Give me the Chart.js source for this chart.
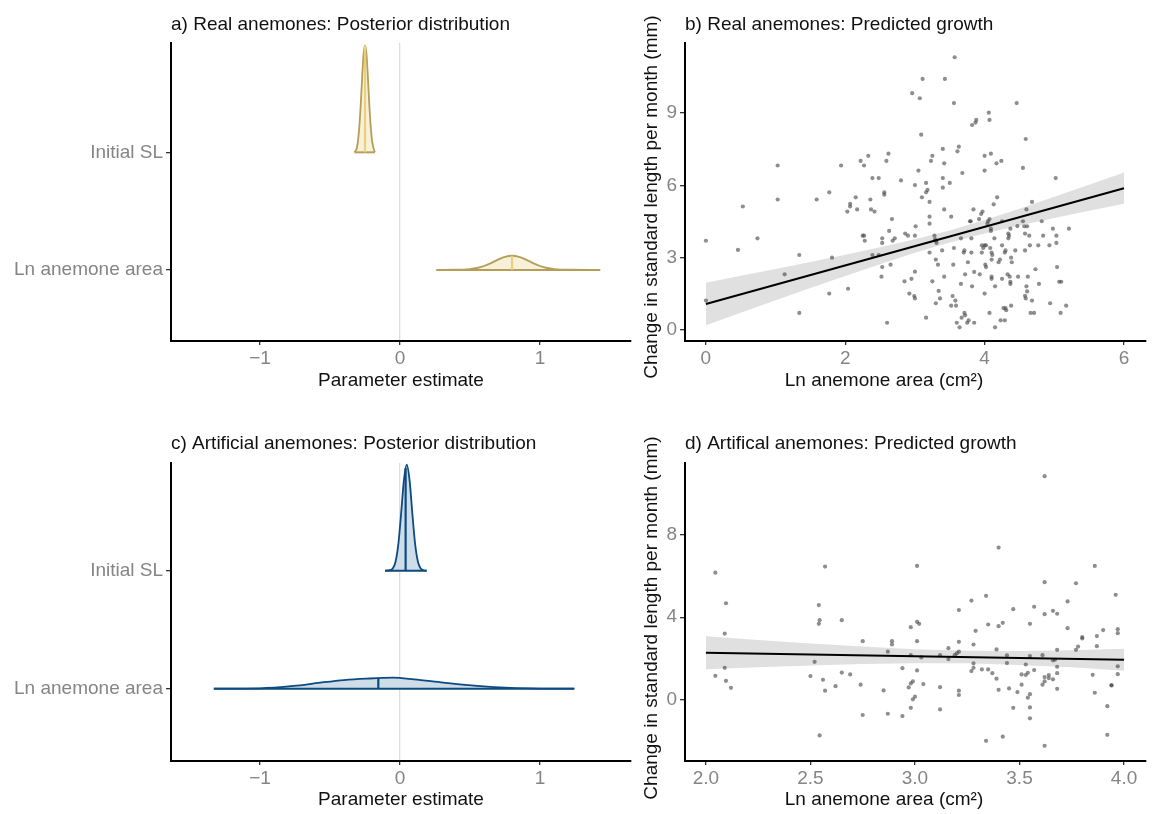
<!DOCTYPE html>
<html>
<head>
<meta charset="utf-8">
<script src="https://cdn.jsdelivr.net/npm/chart.js@4.4.1/dist/chart.umd.min.js"></script>
<style>
  html, body { margin: 0; padding: 0; background: #fff; }
  #wrap { position: relative; width: 1155px; height: 814px; }
  canvas { position: absolute; }
</style>
</head>
<body>
<div id="wrap">
  <canvas id="pa" width="640" height="407" style="left:0;top:0"></canvas>
  <canvas id="pb" width="515" height="407" style="left:640px;top:0"></canvas>
  <canvas id="pc" width="640" height="407" style="left:0;top:407px"></canvas>
  <canvas id="pd" width="515" height="407" style="left:640px;top:407px"></canvas>
</div>
<script>
// ---- data ----
// rows of the posterior panels: Ln anemone area = 1, Initial SL = 2
var paramRows = ['Ln anemone area', 'Initial SL'];
var paramTicks = [-1, 0, 1];

// a) real anemones, posterior densities (height in row units)
var realSLx = [-0.325, -0.31, -0.30, -0.29, -0.28, -0.27, -0.26, -0.25, -0.24, -0.23, -0.22, -0.21, -0.20, -0.19, -0.18];
var realSLh = [0, 0.03, 0.10, 0.23, 0.42, 0.65, 0.84, 0.91, 0.84, 0.65, 0.42, 0.23, 0.10, 0.04, 0];
var realAreaEstX = [0.26, 0.40, 0.50, 0.55, 0.60, 0.65, 0.70, 0.75, 0.80, 0.85, 0.90, 0.95, 1.00, 1.05, 1.10, 1.20, 1.43];
var realAreaEstH = [0, 0.001, 0.007, 0.016, 0.033, 0.058, 0.087, 0.111, 0.12, 0.111, 0.087, 0.058, 0.033, 0.016, 0.007, 0.001, 0];
var realMedians = [-0.25, 0.80];      // Initial SL, Ln anemone area
var realMedianH = [0.91, 0.12];

// c) artificial anemones, posterior densities
var artSLx = [-0.107, -0.072, -0.052, -0.032, -0.012, 0.008, 0.028, 0.048, 0.068, 0.088, 0.108, 0.128, 0.148, 0.168, 0.19];
var artSLh = [0, 0.004, 0.019, 0.076, 0.225, 0.486, 0.77, 0.90, 0.77, 0.486, 0.225, 0.076, 0.019, 0.004, 0];
var artAreaEstX = [-1.33, -1.0, -0.76, -0.57, -0.40, -0.24, -0.05, 0.10, 0.31, 0.55, 0.79, 1.0, 1.245];
var artAreaEstH = [0, 0.003, 0.023, 0.051, 0.073, 0.085, 0.093, 0.079, 0.051, 0.023, 0.006, 0.001, 0];
var artMedians = [0.04, -0.155];
var artMedianH = [0.87, 0.089];

// b) real anemones, observed growth
var realLnArea = [0,0,0.46,0.53,0.74,1.03,1.03,1.13,1.34,1.34,1.59,1.77,1.77,1.81,1.94,2.03,2.04,2.07,2.07,2.15,
  2.17,2.22,2.25,2.27,2.27,2.28,2.33,2.36,2.37,2.39,2.39,2.42,2.48,2.48,2.53,2.53,2.53,2.52,2.56,2.56,
  2.59,2.6,2.62,2.63,2.65,2.67,2.68,2.71,2.8,2.85,2.86,2.9,2.92,2.95,2.96,2.99,3.0,3.0,3.0,3.0,
  3.01,3.05,3.07,3.09,3.11,3.1,3.16,3.16,3.16,3.18,3.21,3.21,3.21,3.21,3.23,3.25,3.25,3.28,3.29,3.3,
  3.3,3.3,3.31,3.33,3.34,3.36,3.39,3.4,3.4,3.4,3.42,3.42,3.42,3.43,3.5,3.52,3.52,3.54,3.55,3.56,
  3.56,3.57,3.58,3.59,3.6,3.61,3.63,3.64,3.66,3.66,3.67,3.68,3.7,3.71,3.71,3.72,3.72,3.75,3.76,3.77,
  3.79,3.8,3.81,3.81,3.82,3.82,3.84,3.85,3.85,3.87,3.88,3.92,3.93,3.95,3.96,3.96,3.97,3.98,4.0,4.0,
  4.0,4.0,4.01,4.02,4.02,4.04,4.05,4.06,4.07,4.07,4.07,4.08,4.09,4.09,4.09,4.1,4.1,4.1,4.1,4.11,
  4.13,4.14,4.15,4.15,4.17,4.18,4.2,4.22,4.23,4.24,4.25,4.25,4.25,4.27,4.29,4.29,4.3,4.3,4.31,4.33,
  4.34,4.34,4.35,4.36,4.37,4.37,4.37,4.38,4.38,4.39,4.44,4.46,4.47,4.48,4.55,4.55,4.57,4.58,4.58,4.58,
  4.59,4.59,4.6,4.6,4.61,4.61,4.62,4.64,4.65,4.66,4.68,4.68,4.71,4.73,4.77,4.78,4.82,4.84,4.93,4.94,
  4.98,5.02,5.03,5.03,5.04,5.07,5.09,5.1,5.17,5.21];
var realGrowth = [3.7,1.22,3.32,5.12,3.8,6.82,5.41,2.31,3.11,0.71,5.41,5.71,1.51,3.0,6.82,4.91,1.71,5.23,5.12,5.5,
  5.0,7.01,3.91,6.82,3.91,3.7,7.22,5.41,5.0,6.3,3.11,4.91,6.3,3.11,3.8,3.61,2.61,2.21,5.71,5.61,
  7.01,0.3,7.31,4.11,2.71,4.6,3.7,3.8,6.2,2.02,4.0,3.91,1.51,2.12,9.82,1.41,1.31,6.01,3.91,2.42,
  4.3,6.61,9.61,8.1,10.41,5.5,6.1,5.71,0.51,5.81,5.31,4.41,4.7,3.21,7.01,7.22,2.02,3.91,3.76,3.7,
  2.92,1.11,3.61,2.71,1.62,1.31,3.3,7.51,6.3,5.9,5.0,6.91,2.21,10.41,6.1,4.7,1.01,1.41,2.71,3.4,
  9.41,11.31,1.22,1.01,0.3,7.41,7.6,0.11,1.91,3.8,0.51,6.51,3.21,3.3,0.71,2.31,0.61,0.3,2.81,0.4,
  4.51,4.51,3.8,3.21,1.81,8.5,5.0,2.41,0.3,8.6,8.71,4.6,2.31,4.81,3.51,3.21,4.91,3.4,6.61,7.22,
  1.51,3.51,2.71,2.61,3.51,4.41,4.51,9.01,0.71,8.71,4.6,3.4,7.31,4.2,4.11,2.92,2.21,2.12,3.21,3.11,
  5.21,3.8,0.11,1.81,6.91,5.5,2.81,2.92,0.4,7.01,4.51,3.51,2.12,0.91,0.4,3.21,0.91,3.3,0.82,2.31,
  3.8,4.0,3.91,2.21,2.0,4.2,1.91,1.01,3.0,2.81,3.3,9.41,4.31,2.21,6.72,4.51,4.3,3.3,4.0,1.42,
  7.92,1.31,5.0,1.81,1.6,4.3,2.21,3.91,3.51,0.71,5.31,1.22,0.71,2.52,3.51,1.91,4.51,3.91,3.51,1.11,
  4.2,6.3,3.61,3.91,2.61,2.0,0.71,2.0,1.01,4.2];
var realFitX = [0, 6];
var realFitY = [1.08, 5.88];
var realBandX = [0, 0.5, 1, 1.5, 2, 2.5, 3, 3.5, 4, 4.5, 5, 5.5, 6];
var realBandHi = [1.96, 2.25, 2.53, 2.82, 3.12, 3.43, 3.76, 4.13, 4.56, 5.03, 5.52, 6.02, 6.53];
var realBandLo = [0.20, 0.72, 1.23, 1.74, 2.24, 2.73, 3.20, 3.63, 4.00, 4.33, 4.64, 4.94, 5.23];
var realXTicks = [0, 2, 4, 6];
var realYTicks = [0, 3, 6, 9];

// d) artificial anemones, observed growth
var artLnArea = [2.045,2.045,2.09,2.09,2.096,2.096,2.12,2.5,2.52,2.54,2.544,2.54,2.544,2.56,2.57,2.57,2.62,2.65,2.65,2.69,
  2.74,2.75,2.75,2.85,2.87,2.87,2.89,2.89,2.94,2.94,2.97,2.98,2.98,2.98,2.98,2.99,2.99,3.0,3.01,3.01,
  3.01,3.01,3.02,3.03,3.04,3.12,3.12,3.12,3.16,3.16,3.19,3.2,3.21,3.21,3.21,3.21,3.21,3.27,3.27,3.28,
  3.28,3.28,3.29,3.32,3.34,3.34,3.35,3.35,3.37,3.39,3.39,3.4,3.4,3.4,3.42,3.42,3.44,3.44,3.45,3.47,
  3.47,3.49,3.51,3.51,3.53,3.53,3.54,3.54,3.55,3.55,3.55,3.55,3.55,3.57,3.57,3.61,3.61,3.62,3.62,3.62,
  3.62,3.62,3.62,3.64,3.64,3.66,3.66,3.66,3.67,3.68,3.68,3.68,3.68,3.68,3.73,3.73,3.77,3.77,3.78,3.8,
  3.8,3.85,3.86,3.86,3.87,3.87,3.9,3.92,3.92,3.94,3.94,3.96,3.97,3.97,3.97,3.97];
var artGrowth = [6.16,1.16,3.21,1.55,4.68,0.92,0.58,1.15,1.84,4.59,3.86,3.68,-1.73,0.97,6.46,0.44,0.66,3.86,1.32,1.23,
  0.73,2.84,-0.74,0.45,-0.68,2.33,2.84,2.68,-0.79,1.53,0.6,3.52,2.16,0.79,-0.39,0.89,0.02,0.15,6.49,3.78,
  2.84,1.42,3.68,2.05,0.76,2.16,0.61,-0.47,2.5,1.97,2.16,2.25,2.81,2.33,4.35,0.44,0.23,4.81,1.39,2.68,
  1.76,1.55,3.34,1.47,-1.99,5.04,1.47,3.65,1.29,1.02,2.44,7.38,3.57,0.48,3.73,-1.79,2.15,1.78,0.55,4.39,
  -0.39,0.37,1.23,0.73,1.71,1.2,1.31,0.1,3.68,2.12,-0.37,-0.9,0.27,4.51,1.44,0.73,2.16,1.1,4.15,0.89,
  10.84,5.7,-2.23,1.2,1.05,4.31,0.99,1.91,1.94,4.17,1.6,1.29,0.53,2.42,4.77,3.47,5.65,2.42,2.58,3.04,
  2.97,1.21,6.49,0.34,3.09,2.6,3.38,-0.31,-1.7,0.71,0.69,5.09,3.23,1.24,3.42,1.62];
var artFitX = [2, 4];
var artFitY = [2.28, 1.94];
var artBandX = [2, 2.25, 2.5, 2.75, 3, 3.25, 3.5, 3.75, 4];
var artBandHi = [3.08, 2.90, 2.73, 2.58, 2.45, 2.37, 2.36, 2.40, 2.47];
var artBandLo = [1.48, 1.57, 1.66, 1.73, 1.77, 1.77, 1.69, 1.57, 1.41];
var artXTicks = [2, 2.5, 3, 3.5, 4];
var artYTicks = [0, 4, 8];

// ---- styling ----
var FAMILY = '"Liberation Sans", Arial, Helvetica, sans-serif';
var FONT_SIZE = 19;
var TICK_GREY = '#858585';
var POINT_GREY = 'rgba(60,60,60,0.58)';
var GOLD = { line: '#b59e57', fill: '#f8f1da', median: '#e8d07c' };
var NAVY = { line: '#0c4a80', fill: '#cfdde9', median: '#0c4a80' };

Chart.defaults.font.family = FAMILY;
Chart.defaults.font.size = FONT_SIZE;

// panel titles and axis titles, drawn at fixed spots
var panelText = {
    id: 'panelText',
    afterDraw: function (chart, args, o) {
        var ctx = chart.ctx, a = chart.chartArea;
        ctx.save();
        ctx.fillStyle = '#111';
        ctx.font = FONT_SIZE + 'px ' + FAMILY;
        ctx.textBaseline = 'middle';
        ctx.textAlign = 'left';
        ctx.fillText(o.title, a.left, o.titleY);
        ctx.textAlign = 'center';
        var xx = o.xTitleX != null ? o.xTitleX : (a.left + a.right) / 2;
        ctx.fillText(o.xTitle, xx, o.xTitleY);
        if (o.yTitle) {
            ctx.translate(o.yTitleX, o.yTitleY);
            ctx.rotate(-Math.PI / 2);
            ctx.fillText(o.yTitle, 0, 0);
        }
        ctx.restore();
    }
};

function pts(xs, ys, base) {
    return xs.map(function (x, i) { return { x: x, y: (base || 0) + ys[i] }; });
}

function densitySets(xs, hs, base, med, medH, c) {
    return [
        { data: pts(xs, hs, base), borderColor: c.line, backgroundColor: c.fill, borderWidth: 1.8,
          fill: { value: base }, pointRadius: 0, cubicInterpolationMode: 'monotone', order: 3 },
        { data: [{ x: xs[0], y: base }, { x: xs[xs.length - 1], y: base }], borderColor: c.line,
          borderWidth: 2, pointRadius: 0, fill: false, order: 2 },
        { data: [{ x: med, y: base }, { x: med, y: base + medH }], borderColor: c.median,
          borderWidth: 2.2, pointRadius: 0, fill: false, order: 1 }
    ];
}

function growthSets(bx, lo, hi, xs, ys, fx, fy) {
    return [
        { data: pts(bx, lo), borderWidth: 0, pointRadius: 0, fill: false, order: 5 },
        { data: pts(bx, hi), borderWidth: 0, pointRadius: 0, fill: '-1', backgroundColor: '#e0e0e0', order: 4 },
        { data: pts(xs, ys), showLine: false, pointRadius: 2.1, pointBorderWidth: 0,
          pointBackgroundColor: POINT_GREY, borderColor: POINT_GREY, order: 2 },
        { data: pts(fx, fy), borderColor: '#000', borderWidth: 2, pointRadius: 0, fill: false, order: 1 }
    ];
}

function axis(horizontal, min, max, tickVals, fmt, size, zeroLine) {
    return {
        type: 'linear', min: min, max: max,
        afterBuildTicks: function (s) { s.ticks = tickVals.map(function (v) { return { value: v }; }); },
        afterFit: function (s) { if (horizontal) s.height = size; else s.width = size; },
        ticks: { color: TICK_GREY, padding: horizontal ? 2 : 3, autoSkip: false, maxRotation: 0, callback: fmt },
        grid: {
            drawOnChartArea: !!zeroLine,
            color: function (c) { return c.tick && c.tick.value === 0 ? '#dedede' : 'rgba(0,0,0,0)'; },
            lineWidth: 1.3, tickColor: '#333', tickLength: horizontal ? 4 : 5, tickWidth: 1.3
        },
        border: { color: '#000', width: 2 }
    };
}

function makePanel(id, p) {
    return new Chart(document.getElementById(id), {
        type: 'line',
        data: { datasets: p.datasets },
        options: {
            responsive: false,
            devicePixelRatio: 1,
            animation: false,
            layout: { padding: p.padding },
            plugins: { legend: { display: false }, tooltip: { enabled: false }, panelText: p.text },
            scales: { x: p.x, y: p.y }
        },
        plugins: [panelText]
    });
}

var fmtParam = function (v) { return v < 0 ? '\u2212' + Math.abs(v) : String(v); };
var fmtRow = function (v) { return paramRows[v - 1]; };
var fmtPlain = function (v) { return String(v); };
var fmtOne = function (v) { return v.toFixed(1); };

makePanel('pa', {
    datasets: densitySets(realSLx, realSLh, 2, realMedians[0], realMedianH[0], GOLD)
        .concat(densitySets(realAreaEstX, realAreaEstH, 1, realMedians[1], realMedianH[1], GOLD)),
    padding: { top: 43, right: 9, left: 0, bottom: 0 },
    x: axis(true, -1.636, 1.65, paramTicks, fmtParam, 66, true),
    y: axis(false, 0.395, 2.93, [1, 2], fmtRow, 171, false),
    text: { title: 'a) Real anemones: Posterior distribution', titleY: 25,
            xTitle: 'Parameter estimate', xTitleY: 381 }
});

makePanel('pb', {
    datasets: growthSets(realBandX, realBandLo, realBandHi, realLnArea, realGrowth, realFitX, realFitY),
    padding: { top: 43, right: 9, left: 0, bottom: 0 },
    x: axis(true, -0.30, 6.316, realXTicks, fmtPlain, 66, false),
    y: axis(false, -0.456, 11.9, realYTicks, fmtPlain, 45, false),
    text: { title: 'b) Real anemones: Predicted growth', titleY: 25,
            xTitle: 'Ln anemone area (cm\u00B2)', xTitleX: 244, xTitleY: 381,
            yTitle: 'Change in standard length per month (mm)', yTitleX: 12, yTitleY: 197 }
});

makePanel('pc', {
    datasets: densitySets(artSLx, artSLh, 2, artMedians[0], artMedianH[0], NAVY)
        .concat(densitySets(artAreaEstX, artAreaEstH, 1, artMedians[1], artMedianH[1], NAVY)),
    padding: { top: 56, right: 9, left: 0, bottom: 0 },
    x: axis(true, -1.636, 1.65, paramTicks, fmtParam, 53, true),
    y: axis(false, 0.387, 2.913, [1, 2], fmtRow, 171, false),
    text: { title: 'c) Artificial anemones: Posterior distribution', titleY: 37,
            xTitle: 'Parameter estimate', xTitleY: 393 }
});

makePanel('pd', {
    datasets: growthSets(artBandX, artBandLo, artBandHi, artLnArea, artGrowth, artFitX, artFitY),
    padding: { top: 56, right: 9, left: 0, bottom: 0 },
    x: axis(true, 1.90, 4.105, artXTicks, fmtOne, 53, false),
    y: axis(false, -2.97, 11.48, artYTicks, fmtPlain, 45, false),
    text: { title: 'd) Artifical anemones: Predicted growth', titleY: 37,
            xTitle: 'Ln anemone area (cm\u00B2)', xTitleX: 244, xTitleY: 393,
            yTitle: 'Change in standard length per month (mm)', yTitleX: 12, yTitleY: 211 }
});
</script>
</body>
</html>
